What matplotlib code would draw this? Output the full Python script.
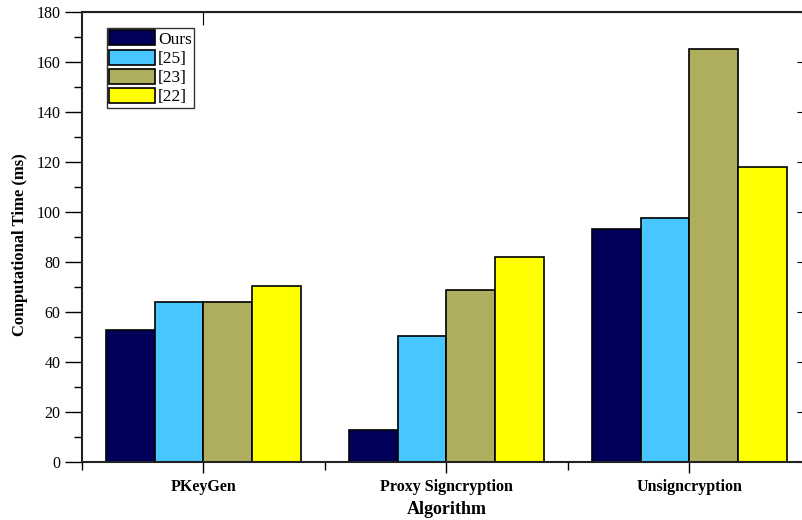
import matplotlib.pyplot as plt
import numpy as np

plt.rcParams['font.family'] = ['Liberation Serif', 'DejaVu Serif']

categories = ['PKeyGen', 'Proxy Signcryption', 'Unsigncryption']
series = ['Ours', '[25]', '[23]', '[22]']
ours = [53, 12.8, 93]
ref25 = [64, 50.4, 97.7]
ref23 = [64, 68.8, 165]
ref22 = [70.5, 81.9, 117.9]
colors = ['#000058', '#47C6FF', '#AFAD5E', '#FFFF00']

values = [ours, ref25, ref23, ref22]

fig = plt.figure(figsize=(8.03, 5.2), dpi=100)
ax = fig.add_axes([82/803, 58/520, (811-82)/803, 450/520])

x = np.arange(len(categories))
w = 0.2
for i, (vals, name) in enumerate(zip(values, series)):
    ax.bar(x + (i - 1.5) * w, vals, w, color=colors[i], edgecolor='black',
           linewidth=1.2, label=name)

ax.set_xlim(-0.5, 2.5)
ax.set_ylim(0, 180)
ax.set_yticks(np.arange(0, 181, 20))
ax.set_yticks(np.arange(10, 180, 20), minor=True)
ax.set_xticks(x)
ax.set_xticks([-0.5, 0.5, 1.5, 2.5], minor=True)
ax.set_xticklabels(categories, fontweight='bold', fontsize=11.5)
ax.tick_params(axis='y', which='major', length=12, width=1, labelsize=11.5)
ax.tick_params(axis='y', which='minor', length=6, width=1)
ax.tick_params(axis='x', which='major', length=8, width=1, pad=4)
ax.tick_params(axis='x', which='minor', length=6, width=1)

# secondary ticks on top / right pointing inward
top = ax.secondary_xaxis('top')
top.set_xticks(x[:1])
top.set_xticklabels([])
top.tick_params(direction='in', length=9)
right = ax.secondary_yaxis('right')
right.set_yticks(np.arange(0, 181, 20))
right.set_yticklabels([])
right.tick_params(direction='in', length=10)

for s in ax.spines.values():
    s.set_linewidth(1.5)
    s.set_color('#222222')

ax.set_ylabel('Computational Time (ms)', fontweight='bold', fontsize=12)
ax.yaxis.set_label_coords(-54/729, 0.483)
ax.set_xlabel('Algorithm', fontweight='bold', fontsize=13)
ax.xaxis.set_label_coords(0.5, -39/450)

leg = ax.legend(loc='upper left', bbox_to_anchor=(0.034, 0.965), fontsize=12.5,
                frameon=True, fancybox=False, edgecolor='black',
                handlelength=2.6, handleheight=0.95, labelspacing=0.1,
                handletextpad=0.2, borderpad=0.15, borderaxespad=0)
leg.get_frame().set_linewidth(1.0)

fig.savefig('out.png', dpi=100)
